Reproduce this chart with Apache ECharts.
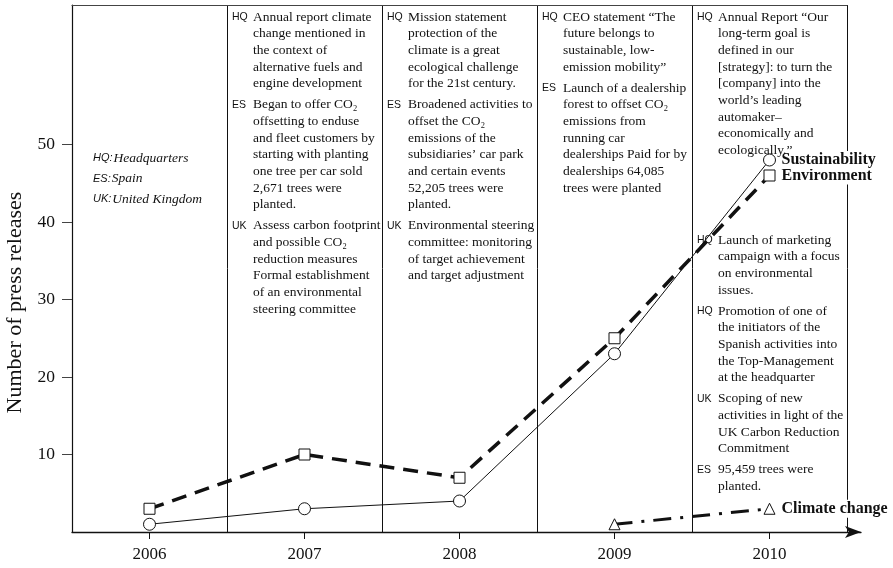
<!DOCTYPE html>
<html><head><meta charset="utf-8">
<script src="https://cdn.jsdelivr.net/npm/echarts@6/dist/echarts.min.js"></script>
<style>html,body{margin:0;padding:0;background:#fff}#c{width:893px;height:568px}</style>
</head><body><div id="c"></div>
<script>
// ---------- data ----------
const years = ['2006', '2007', '2008', '2009', '2010'];
const sustainability = [1, 3, 4, 23, 48];
const environment = [3, 10, 7, 25, 46];
const climateChange = ['-', '-', '-', 1, 3];
const yTicks = [10, 20, 30, 40, 50];
const yAxisTitle = 'Number of press releases';

const legendEntries = [
  ['HQ:', 'Headquarters'],
  ['ES:', 'Spain'],
  ['UK:', 'United Kingdom']
];

const notes2007 = [
  ['HQ', ['Annual report climate', 'change mentioned in', 'the context of', 'alternative fuels and', 'engine development']],
  ['ES', ['Began to offer CO\u2082', 'offsetting to enduse', 'and fleet customers by', 'starting with planting', 'one tree per car sold', '2,671 trees were', 'planted.']],
  ['UK', ['Assess carbon footprint', 'and possible CO\u2082', 'reduction measures', 'Formal establishment', 'of an environmental', 'steering committee']]
];
const notes2008 = [
  ['HQ', ['Mission statement', 'protection of the', 'climate is a great', 'ecological challenge', 'for the 21st century.']],
  ['ES', ['Broadened activities to', 'offset the CO\u2082', 'emissions of the', 'subsidiaries\u2019 car park', 'and certain events', '52,205 trees were', 'planted.']],
  ['UK', ['Environmental steering', 'committee: monitoring', 'of target achievement', 'and target adjustment']]
];
const notes2009 = [
  ['HQ', ['CEO statement \u201cThe', 'future belongs to', 'sustainable, low-', 'emission mobility\u201d']],
  ['ES', ['Launch of a dealership', 'forest to offset CO\u2082', 'emissions from', 'running car', 'dealerships Paid for by', 'dealerships 64,085', 'trees were planted']]
];
const notes2010Top = [
  ['HQ', ['Annual Report \u201cOur', 'long-term goal is', 'defined in our', '[strategy]: to turn the', '[company] into the', 'world\u2019s leading', 'automaker\u2013', 'economically and', 'ecologically.\u201d']]
];
const notes2010Bottom = [
  ['HQ', ['Launch of marketing', 'campaign with a focus', 'on environmental', 'issues.']],
  ['HQ', ['Promotion of one of', 'the initiators of the', 'Spanish activities into', 'the Top-Management', 'at the headquarter']],
  ['UK', ['Scoping of new', 'activities in light of the', 'UK Carbon Reduction', 'Commitment']],
  ['ES', ['95,459 trees were', 'planted.']]
];

// ---------- chart ----------
const SERIF = '"Liberation Serif", "Times New Roman", serif';
const SANS = '"Liberation Sans", Arial, sans-serif';
const INK = '#111';

const chart = echarts.init(document.getElementById('c'), null, { renderer: 'canvas' });

const endLabel = {
  show: true, formatter: '{a}', distance: 12,
  fontFamily: SERIF, fontWeight: 'bold', fontSize: 16, color: INK,
  backgroundColor: '#fff', padding: [1, 0]
};

const option = {
  animation: false,
  backgroundColor: '#fff',
  grid: [
    { left: 72, right: 46, top: 5, bottom: 36, containLabel: false, outerBoundsMode: 'none' },
    { left: 72, right: 32, top: 5, bottom: 36, containLabel: false, outerBoundsMode: 'none' }
  ],
  xAxis: [
    {
      gridIndex: 0, type: 'category', data: years, boundaryGap: true, position: 'bottom',
      axisLine: { show: false },
      axisTick: { show: true, alignWithLabel: true, length: 7, lineStyle: { color: INK } },
      axisLabel: { margin: 14, fontFamily: SERIF, fontSize: 17, color: INK },
      splitLine: { show: true, lineStyle: { color: INK, width: 1 } }
    },
    {
      gridIndex: 0, type: 'category', data: years, position: 'top',
      axisLine: { show: true, lineStyle: { color: '#444', width: 1.2 } },
      axisTick: { show: false }, axisLabel: { show: false }, splitLine: { show: false }
    },
    {
      gridIndex: 1, type: 'category', data: years, position: 'bottom',
      axisLine: { show: true, symbol: ['none', 'arrow'], symbolSize: [9, 16], lineStyle: { color: INK, width: 1.3 } },
      axisTick: { show: false }, axisLabel: { show: false }, splitLine: { show: false }
    }
  ],
  yAxis: [
    {
      gridIndex: 0, type: 'value', min: 0, max: 68, interval: 10,
      axisLine: { show: true, lineStyle: { color: INK, width: 1.2 } },
      axisTick: { show: true, length: 10, customValues: yTicks, lineStyle: { color: '#444' } },
      axisLabel: { customValues: yTicks, margin: 17, fontFamily: SERIF, fontSize: 17.5, color: INK },
      splitLine: { show: false },
      name: yAxisTitle, nameLocation: 'middle', nameGap: 43,
      nameTextStyle: { fontFamily: SERIF, fontSize: 22, color: INK, padding: [0, 68, 0, 0] }
    },
    { gridIndex: 1, type: 'value', show: false }
  ],
  series: [
    {
      name: 'Sustainability', type: 'line', xAxisIndex: 0, yAxisIndex: 0, data: sustainability,
      symbol: 'circle', symbolSize: 12, showAllSymbol: true, z: 5,
      lineStyle: { color: INK, width: 1 },
      itemStyle: { color: '#fff', borderColor: INK, borderWidth: 1 },
      endLabel: endLabel
    },
    {
      name: 'Environment', type: 'line', xAxisIndex: 0, yAxisIndex: 0, data: environment,
      symbol: 'rect', symbolSize: 11, showAllSymbol: true, z: 4,
      lineStyle: { color: INK, width: 3.5, type: [15, 9] },
      itemStyle: { color: '#fff', borderColor: INK, borderWidth: 1 },
      endLabel: endLabel
    },
    {
      name: 'Climate change', type: 'line', xAxisIndex: 0, yAxisIndex: 0, data: climateChange,
      symbol: 'triangle', symbolSize: 11, showAllSymbol: true, z: 4,
      lineStyle: { color: INK, width: 3, type: [18, 9, 3, 9] },
      itemStyle: { color: '#fff', borderColor: INK, borderWidth: 1 },
      endLabel: endLabel
    }
  ]
};
chart.setOption(option);

// ---------- annotations (text layout) ----------
const LINE_H = 16.7, BLOCK_GAP = 4.2, FONT_SIZE = 13.5;
const cellW = chart.convertToPixel({ xAxisIndex: 0 }, years[1]) - chart.convertToPixel({ xAxisIndex: 0 }, years[0]);
function cellLeft(year) { return chart.convertToPixel({ xAxisIndex: 0 }, year) - cellW / 2; }

const graphics = [];
function addGroup(year, blocks, startCenterY) {
  const x0 = cellLeft(year);
  let top = startCenterY - LINE_H / 2;
  blocks.forEach(([tag, lines]) => {
    graphics.push({
      type: 'text', x: x0 + 5, y: top, z: 10,
      style: { text: tag, fontFamily: SANS, fontSize: 10.5, lineHeight: LINE_H, fill: INK, verticalAlign: 'top' }
    });
    graphics.push({
      type: 'text', x: x0 + 26, y: top, z: 10,
      style: { text: lines.join('\n'), fontFamily: SERIF, fontSize: FONT_SIZE, lineHeight: LINE_H, fill: INK, verticalAlign: 'top' }
    });
    top += lines.length * LINE_H + BLOCK_GAP;
  });
}
addGroup('2007', notes2007, 17);
addGroup('2008', notes2008, 17);
addGroup('2009', notes2009, 17);
addGroup('2010', notes2010Top, 17);
addGroup('2010', notes2010Bottom, 240);

// legend of abbreviations in the 2006 column
const lx = cellLeft('2006') + 21;
legendEntries.forEach(([abbr, full], i) => {
  graphics.push({
    type: 'text', x: lx, y: 158 + i * 20.5, z: 10,
    style: {
      text: '{a|' + abbr + '}{b|' + full + '}',
      verticalAlign: 'middle',
      rich: {
        a: { fontFamily: SANS, fontStyle: 'italic', fontSize: 11, fill: INK, padding: [0, 1, 0, 0] },
        b: { fontFamily: SERIF, fontStyle: 'italic', fontSize: 13.5, fill: INK }
      }
    }
  });
});

chart.setOption({ graphic: graphics });
</script>
</body></html>
